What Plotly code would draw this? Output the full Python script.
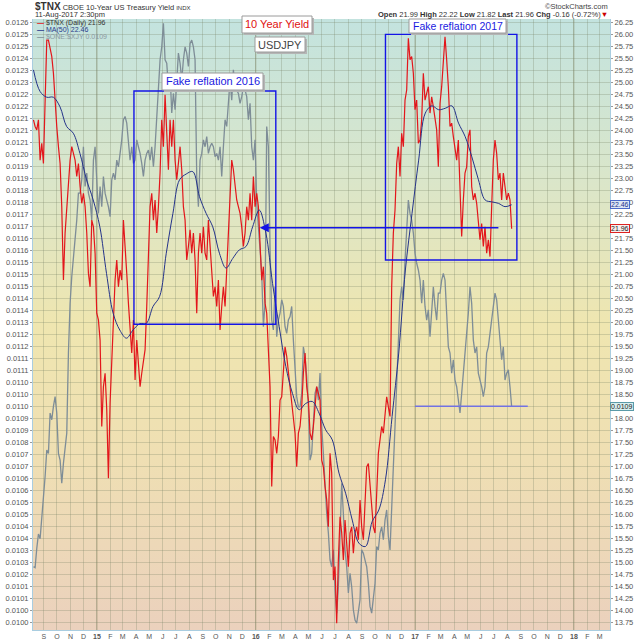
import base64
import pandas as pd
import plotly.graph_objects as go

# $TNX daily (yield x10), evenly spaced from 8-Aug-2014 to 11-Aug-2017
tnx = [
    24.23, 24.09, 24.02, 24.23, 23.39, 23.74, 23.32, 24.37, 25.89, 25.89,
    25.75, 25.55, 25.2, 24.57, 24.09, 23.67, 23.32, 22.42, 20.89, 21.87,
    22.42, 22.98, 23.39, 23.67, 23.53, 23.39, 23.05, 23.32, 22.84, 22.49,
    22.7, 22.42, 21.87, 21.03, 20.75, 22.14, 22.0, 21.45, 20.2, 20.06,
    19.64, 17.84, 18.67, 18.95, 18.19, 16.76, 18.33, 19.23, 19.92, 20.89,
    21.31, 20.75, 21.1, 20.89, 22.14, 21.45, 21.03, 20.41, 19.78, 19.37,
    20.06, 18.81, 19.64, 19.23, 18.67, 18.95, 19.16, 19.44, 20.34, 21.45,
    22.42, 22.7, 22.14, 22.56, 21.87, 22.42, 23.12, 24.23, 23.67, 24.75,
    24.09, 23.19, 24.23, 23.67, 24.23, 23.39, 22.98, 23.39, 23.67, 23.19,
    22.42, 22.14, 21.31, 21.59, 21.94, 21.45, 21.87, 21.31, 20.2, 21.45,
    21.87, 21.45, 22.0, 21.45, 21.31, 22.14, 21.59, 21.17, 20.55, 20.75,
    20.34, 20.89, 19.85, 20.34, 20.75, 20.34, 21.03, 21.87, 22.7, 23.39,
    23.19, 22.84, 22.56, 22.42, 22.28, 22.0, 21.59, 21.87, 22.42, 22.14,
    22.7, 22.14, 23.05, 22.42, 22.7, 22.42, 21.45, 20.89, 21.17, 20.41,
    20.2, 19.5, 18.67, 16.59, 17.63, 17.56, 17.28, 17.63,
    18.39, 18.46, 18.95, 19.5, 19.3, 18.95, 18.67, 18.25, 18.05, 17.7,
    17.0, 17.7, 17.84, 18.25, 18.95, 19.37, 18.67, 18.39, 17.7, 17.56,
    17.84, 18.25, 18.67, 18.53, 18.39, 17.14, 17.0, 16.59, 16.31, 15.75,
    17.28, 16.87, 14.64, 14.92, 13.74, 15.06, 15.96, 15.62, 15.06, 15.89,
    15.48, 14.92, 15.62, 15.75, 15.2, 15.62, 15.75, 15.48, 16.31, 15.75,
    15.48, 16.31, 17.0, 17.07, 16.59, 16.1, 15.75, 15.62, 16.31, 17.28,
    17.56, 17.84, 17.7, 18.12, 18.46, 18.25, 18.05, 20.75,
    21.87, 22.35, 23.32, 23.67, 23.05, 23.95, 23.67, 24.64, 24.85, 25.93,
    25.48, 25.55, 25.2, 24.44, 24.64, 23.74, 23.81, 24.23, 25.2, 24.64,
    24.78, 24.92, 24.37, 24.71, 24.5, 24.23, 24.02, 23.25, 24.57, 24.92,
    25.55, 25.96, 25.48, 24.92, 24.09, 24.16, 23.88, 23.67, 23.39, 23.81,
    22.7, 21.8, 22.56, 23.12, 23.25, 23.88, 24.02, 22.84, 22.56, 22.7,
    22.49, 22.14, 21.73, 22.07, 21.59, 22.0, 21.45, 21.73, 21.38, 22.42,
    23.39, 23.81, 23.53, 22.98, 23.12, 22.56, 23.12, 22.84, 22.56, 22.7,
    22.56, 21.96,
]

# MA(50) of $TNX, same span, sampled roughly every two weeks
tnx_ma50 = [
    25.27, 24.82, 24.7, 24.7, 24.5, 24.09, 23.95, 23.53, 22.98, 22.56,
    22.0, 21.03, 20.2, 19.85, 19.68, 19.85, 19.98, 19.99, 20.34, 20.55,
    21.45, 22.28, 22.98, 23.1, 23.15, 22.63, 22.28, 22.0, 21.45, 21.14,
    21.34, 21.52, 21.59, 22.0, 22.35, 21.87, 20.82,
    19.92, 19.09, 18.53, 18.19, 18.32, 18.36, 18.12, 17.77, 17.56, 16.87,
    16.45, 15.89, 15.41, 15.34, 15.86, 16.1, 16.73,
    18.05, 19.37, 21.1, 22.28, 23.39, 24.37, 24.52, 24.44, 24.47, 24.52,
    24.16, 23.88, 23.46, 22.98, 22.56, 22.52, 22.49, 22.42, 22.46,
]

# $ONE:$XJY in units of 0.0001 (left scale)
xjy = [
    102.43, 102.39, 103.22, 103.85, 103.64, 104.47, 105.32, 106.34, 107.49, 107.34,
    109.09, 108.8, 109.38, 109.8, 109.09, 107.34, 107.05, 106.05, 106.91, 107.63,
    108.22, 111.69, 113.85, 115.0, 115.72, 116.6, 117.45, 118.62, 118.62, 119.2,
    120.63, 118.91, 119.49, 118.62, 118.32, 117.45, 120.05, 120.63, 119.2, 117.74,
    118.91, 118.03, 119.34, 118.62, 118.32, 118.03, 117.6, 119.2, 119.49, 119.2,
    120.05, 119.76, 120.34, 120.93, 121.8, 121.94, 121.65, 120.93, 120.05, 120.63,
    119.91, 120.05, 120.93, 120.63, 120.34, 119.91, 119.34, 120.05, 120.34, 120.49,
    120.05, 120.63, 119.76, 120.63, 121.8, 123.23, 124.4, 124.96, 125.98, 124.4,
    124.25, 123.23, 123.82, 122.09, 122.94, 122.24, 123.82, 124.69, 124.25, 123.52,
    124.4, 124.96, 124.69, 124.11, 125.11, 125.25, 124.96, 124.4, 119.34, 118.03,
    120.05, 120.34, 120.93, 120.63, 121.07, 120.34, 120.63, 120.78, 120.63, 120.2,
    120.34, 120.05, 120.63, 119.34, 120.63, 121.8, 121.51, 122.65, 123.52, 122.65,
    123.96, 123.23, 123.09, 122.94, 122.51, 122.8, 123.23, 123.09, 122.8, 121.8,
    122.51, 120.63, 120.05, 120.93, 118.18, 117.16, 116.31, 115.14, 112.83, 113.85,
    121.51, 120.63, 116.31, 113.12, 112.69, 114.56, 112.4, 113.12,
    113.42, 114.0, 113.71, 112.83, 112.54, 113.12, 113.27, 113.71, 112.25, 110.82,
    109.8, 109.36, 109.36, 109.94, 111.96, 111.54, 110.67, 109.36, 107.05, 107.34,
    108.51, 109.94, 110.23, 109.65, 110.82, 108.51, 107.34, 105.76, 104.74, 103.89,
    102.72, 102.43, 103.16, 101.44, 100.42, 101.56, 103.89, 106.05, 104.74, 103.16,
    102.43, 101.29, 102.14, 101.56, 100.56, 100.12, 99.98, 100.42, 101.0, 103.16,
    103.02, 102.72, 102.43, 101.71, 100.71, 100.42, 101.0, 101.71, 103.31, 103.16,
    103.89, 104.16, 103.6, 104.45, 104.89, 103.74, 103.16, 105.32,
    106.76, 108.51, 110.23, 111.75, 114.0, 114.56, 114.0, 115.7, 116.89, 118.32,
    117.74, 117.45, 116.89, 116.02, 115.58, 115.29, 114.85, 113.85, 114.85, 113.71,
    113.12, 113.56, 112.4, 113.56, 114.56, 113.71, 113.12, 114.29, 114.29, 114.85,
    115.14, 114.85, 113.42, 111.96, 111.69, 110.82, 111.4, 110.52, 110.23, 109.53,
    109.09, 109.94, 110.82, 111.4, 112.4, 113.42, 114.56, 113.85, 112.25, 111.69,
    111.96, 110.82, 110.52, 110.23, 109.8, 110.23, 111.69, 111.96, 112.54, 113.12,
    113.85, 114.29, 114.0, 113.12, 112.25, 111.4, 111.96, 110.52, 110.82, 110.96,
    110.23, 109.36,
]

month_labels = ["S", "O", "N", "D",
                "<b>15</b>", "F", "M", "A", "M", "J", "J", "A", "S", "O", "N", "D",
                "<b>16</b>", "F", "M", "A", "M", "J", "J", "A", "S", "O", "N", "D",
                "<b>17</b>", "F", "M", "A", "M", "J", "J", "A", "S", "O", "N", "D",
                "<b>18</b>", "F", "M"]

# left-hand scale labels, top to bottom, as printed on the chart
left_labels = ["0.0126", "0.0125", "0.0125", "0.0124", "0.0123", "0.0123", "0.0122",
               "0.0122", "0.0121", "0.0121", "0.0121", "0.0120", "0.0119", "0.0119",
               "0.0118", "0.0118", "0.0117", "0.0117", "0.0116", "0.0116", "0.0115",
               "0.0115", "0.0115", "0.0114", "0.0114", "0.0113", "0.0112", "0.0112",
               "0.0111", "0.0111", "0.0110", "0.0110", "0.0110", "0.0109", "0.0109",
               "0.0108", "0.0107", "0.0107", "0.0106", "0.0106", "0.0105", "0.0105",
               "0.0104", "0.0104", "0.0103", "0.0103", "0.0102", "0.0101", "0.0101",
               "0.0100", "0.0100"]

start, end = "2014-08-08", "2017-08-11"
tnx_dates = pd.date_range(start, end, periods=len(tnx))
ma_dates = pd.date_range(start, end, periods=len(tnx_ma50))
xjy_dates = pd.date_range(start, end, periods=len(xjy))
month_ticks = pd.date_range("2014-09-01", "2018-03-01", freq="MS")
left_ticks = [0.0126 - 0.000052 * i for i in range(len(left_labels))]

RED = "#e3161b"
NAVY = "#24338a"
GREY = "#7e8d97"
BLUE = "#1414e6"
GRID = "rgba(120,130,100,0.28)"
EDGE = "#a9cde0"
FONT = "Liberation Sans, Arial, sans-serif"

# background gradient (teal -> yellow -> peach) as an inline svg
svg = ("<svg xmlns='http://www.w3.org/2000/svg' width='10' height='100' preserveAspectRatio='none'>"
       "<defs><linearGradient id='g' x1='0' y1='0' x2='0' y2='1'>"
       "<stop offset='0' stop-color='#c3e3df'/>"
       "<stop offset='0.25' stop-color='#d9e6cb'/>"
       "<stop offset='0.5' stop-color='#efe6b0'/>"
       "<stop offset='0.72' stop-color='#efdfb3'/>"
       "<stop offset='1' stop-color='#ebd1bd'/>"
       "</linearGradient></defs><rect width='10' height='100' fill='url(#g)'/></svg>")
bg_src = "data:image/svg+xml;base64," + base64.b64encode(svg.encode()).decode()

fig = go.Figure()

fig.add_trace(go.Scatter(x=xjy_dates, y=[v / 10000 for v in xjy], mode="lines",
                         line=dict(color=GREY, width=1.3), name="$ONE:$XJY", yaxis="y"))
fig.add_trace(go.Scatter(x=tnx_dates, y=tnx, mode="lines",
                         line=dict(color=RED, width=1.2), name="$TNX (Daily)", yaxis="y2"))
fig.add_trace(go.Scatter(x=ma_dates, y=tnx_ma50, mode="lines", line_shape="spline",
                         line=dict(color=NAVY, width=1), name="MA(50)", yaxis="y2"))

fig.update_layout(
    width=640, height=640,
    margin=dict(l=33, r=30, t=19, b=10),
    paper_bgcolor="white",
    plot_bgcolor="#efe6b0",
    showlegend=False,
    font=dict(family=FONT, size=8, color="#444"),
    images=[dict(source=bg_src, xref="paper", yref="paper", x=0, y=1, sizex=1, sizey=1,
                 xanchor="left", yanchor="top", sizing="stretch", layer="below")],
    xaxis=dict(type="date", range=["2014-08-07", "2018-03-25"], automargin=False,
               tickmode="array", tickvals=month_ticks, ticktext=month_labels,
               ticks="", tickfont=dict(size=7, color="#555"),
               showgrid=True, gridcolor=GRID, gridwidth=1,
               showline=True, linecolor=EDGE, zeroline=False),
    yaxis=dict(range=[0.0099688, 0.0126166], side="left", automargin=False,
               tickmode="array", tickvals=left_ticks, ticktext=left_labels,
               ticks="outside", ticklen=2, tickcolor="#999",
               tickfont=dict(size=7.5, color="#555"),
               showgrid=True, gridcolor=GRID, gridwidth=1,
               showline=True, linecolor=EDGE, zeroline=False),
    yaxis2=dict(range=[13.60, 26.33], side="right", overlaying="y", automargin=False,
                tickmode="linear", tick0=13.75, dtick=0.25, tickformat=".2f",
                ticks="outside", ticklen=2, tickcolor="#999",
                tickfont=dict(size=7.5, color="#555"),
                showgrid=False, showline=True, linecolor=EDGE, zeroline=False),
)

# darker year separators
for yr in ["2015-01-01", "2016-01-01", "2017-01-01", "2018-01-01"]:
    fig.add_shape(type="line", x0=yr, x1=yr, y0=0, y1=1, xref="x", yref="paper",
                  line=dict(color="rgba(120,120,80,0.45)", width=1), layer="below")

# hand-drawn boxes and lines
fig.add_shape(type="rect", xref="x", yref="y2", x0="2015-03-27", x1="2016-02-16",
              y0=19.97, y1=24.83, line=dict(color=BLUE, width=1.4))
fig.add_shape(type="rect", xref="x", yref="y2", x0="2016-10-25", x1="2017-08-23",
              y0=21.31, y1=26.01, line=dict(color=BLUE, width=1.4))
fig.add_shape(type="line", xref="x", yref="y2", x0="2017-01-01", x1="2017-09-17",
              y0=18.26, y1=18.26, line=dict(color="#7272e2", width=1.5))
fig.add_annotation(x="2016-01-10", y=21.98, xref="x", yref="y2",
                   ax="2017-07-15", ay=21.98, axref="x", ayref="y2",
                   text="", showarrow=True, arrowhead=2, arrowsize=1.3,
                   arrowwidth=1.4, arrowcolor=BLUE)


def px_x(p):
    return (p - 33) / 577


def px_y(p):
    return (630 - p) / 611


def label_box(text, x0, x1, y0, y1, color, size=11):
    # grey drop shadow behind a white box, text centred in it
    fig.add_shape(type="rect", xref="paper", yref="paper",
                  x0=px_x(x0 + 2), x1=px_x(x1 + 2), y0=px_y(y1 + 2), y1=px_y(y0 + 2),
                  fillcolor="#b5b5b5", line=dict(width=0))
    fig.add_shape(type="rect", xref="paper", yref="paper",
                  x0=px_x(x0), x1=px_x(x1), y0=px_y(y1), y1=px_y(y0),
                  fillcolor="white", line=dict(color="#9a9a9a", width=1))
    fig.add_annotation(x=px_x((x0 + x1) / 2), y=px_y((y0 + y1) / 2), xref="paper", yref="paper",
                       xanchor="center", yanchor="middle",
                       text=text, showarrow=False, font=dict(family=FONT, size=size, color=color))


label_box("10 Year Yield", 242, 312, 16, 33, "#e01010")
label_box("USDJPY", 255, 305, 37, 52, "#444444")
label_box("Fake reflation 2016", 162, 263, 73, 90, "#1a1ae0")
label_box("Fake reflation 2017", 409, 506, 19, 33, "#1a1ae0", 10.5)

# legend lines inside the plot
legend_rows = [
    ("<span style='color:%s'><b>—</b></span> $TNX (Daily) 21.96" % RED, 22.7, "#333"),
    ("<span style='color:%s'><b>—</b></span> MA(50) 22.46" % NAVY, 29.5, "#2a3a8a"),
    ("<span style='color:%s'><b>—</b></span> $ONE:$XJY 0.0109" % GREY, 36.3, "#8a99a2"),
]
for txt, py, col in legend_rows:
    fig.add_annotation(x=0.003, y=px_y(py), xref="paper", yref="paper", xanchor="left",
                       yanchor="middle", text=txt, showarrow=False,
                       font=dict(family=FONT, size=7, color=col))

# header
fig.add_annotation(x=0, y=px_y(6), xref="paper", yref="paper", xanchor="left", yanchor="middle",
                   text="<b style='font-size:10px'>$TNX</b> CBOE 10-Year US Treasury Yield "
                        "<span style='font-size:6px'>INDX</span>",
                   showarrow=False, font=dict(family=FONT, size=7.5, color="#333"))
fig.add_annotation(x=0, y=px_y(14.5), xref="paper", yref="paper", xanchor="left", yanchor="middle",
                   text="11-Aug-2017 2:30pm", showarrow=False,
                   font=dict(family=FONT, size=7.5, color="#333"))
fig.add_annotation(x=1, y=px_y(6), xref="paper", yref="paper", xanchor="right", yanchor="middle",
                   text="©StockCharts.com", showarrow=False,
                   font=dict(family=FONT, size=7.5, color="#444"))
fig.add_annotation(x=1, y=px_y(14.5), xref="paper", yref="paper", xanchor="right", yanchor="middle",
                   text="<b>Open</b> 21.99 <b>High</b> 22.22 <b>Low</b> 21.82 <b>Last</b> 21.96 "
                        "<b>Chg</b> -0.16 (-0.72%)<span style='color:#cc0000'>▼</span>",
                   showarrow=False, font=dict(family=FONT, size=7.5, color="#333"))

# last-value tags on the right scale
fig.add_annotation(x=1, y=tnx_ma50[-1], xref="paper", yref="y2", xanchor="left",
                   yanchor="middle", text="22.46", showarrow=False,
                   font=dict(family=FONT, size=7, color="#23338a"),
                   bgcolor="#dce6f4", bordercolor="#4b69c8", borderwidth=1, borderpad=0)
fig.add_annotation(x=1, y=tnx[-1], xref="paper", yref="y2", xanchor="left",
                   yanchor="middle", text="21.96", showarrow=False,
                   font=dict(family=FONT, size=7, color="#222"),
                   bgcolor="#f8eeee", bordercolor="#dd2222", borderwidth=1, borderpad=0)
fig.add_annotation(x=1, y=xjy[-1] / 10000, xref="paper", yref="y", xanchor="left",
                   yanchor="middle", text="0.0109", showarrow=False,
                   font=dict(family=FONT, size=7, color="#222"),
                   bgcolor="#d6eeee", bordercolor="#5a9aa8", borderwidth=1, borderpad=0)

# the page's default body margin would push the 640x640 figure off the window
fig.write_html("out.html", config={"displayModeBar": False},
               post_script="document.body.style.margin='0';")
